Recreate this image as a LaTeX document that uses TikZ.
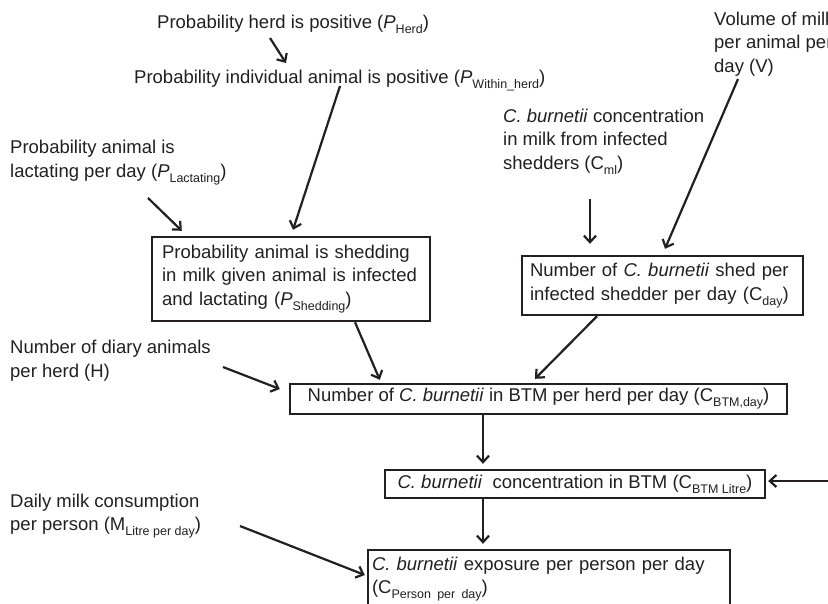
\documentclass[tikz,border=0pt]{standalone}
\usepackage{fontspec}
\setmainfont{Liberation Sans}
\usetikzlibrary{arrows.meta,calc}
\definecolor{ink}{HTML}{231F20}
\newcommand{\sbx}[1]{\raisebox{-5pt}{\fontsize{12.5}{12.5}\selectfont #1}}
\begin{document}
\begin{tikzpicture}[x=1pt,y=-1pt,
  lbl/.style={anchor=base west,inner sep=0pt,align=left,text=ink,
    font=\fontsize{18.5}{23.5}\selectfont},
  boxnode/.style={draw=ink,line width=2.4pt,text=ink,inner ysep=0pt,
    font=\fontsize{18.5}{23.5}\selectfont},
  arr/.style={draw=ink,line width=2.2pt,-{Straight Barb[length=6.5pt,width=12pt]}}]
\useasboundingbox (0,0) rectangle (828,603);
\clip (0,0) rectangle (828,603);

% free text labels (anchor = baseline of last line)
\node[lbl] (herd) at (157,28) {Probability herd is positive (\textit{P}\sbx{Herd})};
\node[lbl] (within) at (134,83) {Probability individual animal is positive (\textit{P}\sbx{Within\_herd})};
\node[lbl] (lact) at (10,177) {Probability animal is\\lactating per day (\textit{P}\sbx{Lactating})};
\node[lbl] (cml) at (503,169) {\textit{C. burnetii} concentration\\in milk from infected\\shedders (C\sbx{ml})};
\node[lbl] (vol) at (714,72) {Volume of milk\\per animal per\\day (V)};
\node[lbl] (hh) at (10,377) {Number of diary animals\\per herd (H)};
\node[lbl] (mm) at (10,530.5) {Daily milk consumption\\per person (M\sbx{Litre per day})};

% boxes
\node[boxnode,minimum width=278pt,minimum height=84pt,text width=258pt,inner xsep=10pt,align=left]
  (shed) at (291,279) {Probability animal is shedding\\in milk given animal is infected\\and lactating (\textit{P}\sbx{Shedding})};
\node[boxnode,minimum width=281pt,minimum height=59pt,text width=265pt,inner xsep=8pt,align=left]
  (cday) at (662.5,285.5) {Number of \textit{C. burnetii} shed per\\infected shedder per day (C\sbx{day})};
\node[boxnode,minimum width=497pt,minimum height=30pt,align=center]
  (btm) at (538.5,399) {Number of \textit{C. burnetii} in BTM per herd per day (C\sbx{BTM,day})};
\node[boxnode,minimum width=380pt,minimum height=28pt,align=center]
  (conc) at (575,484) {\textit{C. burnetii}\ \ concentration in BTM (C\sbx{BTM Litre})};
\node[boxnode,minimum width=362pt,minimum height=58pt,text width=354pt,inner xsep=4pt,align=left]
  (expo) at (549,579) {\textit{C. burnetii} exposure per person per day\\(C\sbx{Person per day})};

% free ends
\coordinate (a1s) at (270,38);
\coordinate (a1e) at (286,63);
\coordinate (a2s) at (148,198);
\coordinate (a3s) at (340,86);
\coordinate (a4s) at (590,199);
\coordinate (a5s) at (738,79);
\coordinate (a8s) at (223,367);
\coordinate (a10s) at (840,481);
\coordinate (a12s) at (240,526);

% connectors
\draw[arr] (a1s) -- (a1e);
\draw[arr] (a2s) -- ($(shed.north west)+(31,-5)$);
\draw[arr] (a3s) -- ($(shed.north)+(2,-6)$);
\draw[arr] (a4s) -- ($(cday.north)+(-72.5,-11)$);
\draw[arr] (a5s) -- ($(cday.north)+(2.5,-6)$);
\draw[arr] ($(shed.south)+(64,0)$) -- ($(btm.north west)+(91,-3)$);
\draw[arr] ($(cday.south)+(-65.5,0)$) -- ($(btm.north)+(-3.5,-4)$);
\draw[arr] (a8s) -- ($(btm.west)+(-9,-10)$);
\draw[arr] ($(btm.south)+(-55.5,0)$) -- ($(conc.north)+(-92,-5)$);
\draw[arr] (a10s) -- ($(conc.east)+(2,-3)$);
\draw[arr] ($(conc.south)+(-92,0)$) -- ($(expo.north)+(-66,-5)$);
\draw[arr] (a12s) -- ($(expo.west)+(-2,-4)$);
\end{tikzpicture}
\end{document}
